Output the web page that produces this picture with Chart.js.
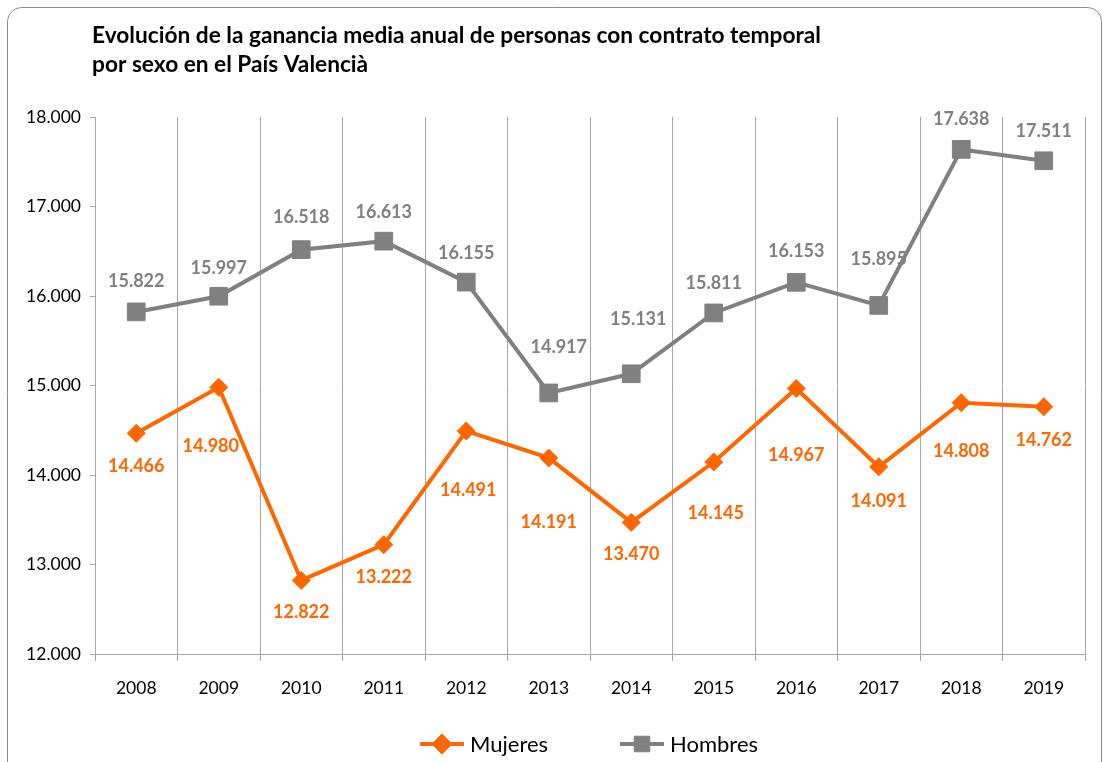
<!DOCTYPE html>
<html>
<head>
<meta charset="utf-8">
<script src="https://cdn.jsdelivr.net/npm/chart.js@4.4.1/dist/chart.umd.min.js"></script>
<style>
  html, body { margin: 0; padding: 0; background: #fff; }
  #wrap { width: 1105px; height: 762px; position: relative; }
</style>
</head>
<body>
<div id="wrap"><canvas id="grafico" width="1105" height="762"></canvas></div>
<script>
// Datos
const years = ['2008', '2009', '2010', '2011', '2012', '2013', '2014', '2015', '2016', '2017', '2018', '2019'];
const mujeres = [14466, 14980, 12822, 13222, 14491, 14191, 13470, 14145, 14967, 14091, 14808, 14762];
const hombres = [15822, 15997, 16518, 16613, 16155, 14917, 15131, 15811, 16153, 15895, 17638, 17511];
const titleLines = ['Evolución de la ganancia media anual de personas con contrato temporal', 'por sexo en el País Valencià'];

// desplazamiento de las etiquetas (px) respecto al punto
const offMujeres = [[0, 33], [-8, 59], [0, 32], [0, 33], [2, 59], [0, 64], [0, 32], [2, 51], [0, 67], [0, 34], [0, 49], [0, 33]];
const offHombres = [[0, -31], [0, -28], [0, -32], [0, -29], [0, -29], [10, -46], [7, -55], [0, -30], [0, -31], [0, -46], [0, -30], [0, -30]];

const NARANJA = '#FF6600';
const GRIS = '#808080';
const FONT = 'Lato, "Open Sans", sans-serif';

function miles(v) {
    return String(v).replace(/\B(?=(\d{3})+(?!\d))/g, '.');
}

// marco redondeado y título
const fondo = {
    id: 'fondo',
    beforeDraw(chart) {
        const ctx = chart.ctx;
        ctx.save();
        ctx.strokeStyle = '#8c8c8c';
        ctx.lineWidth = 1;
        ctx.beginPath();
        ctx.roundRect(7.5, 7.5, 1094, 780, 14);
        ctx.stroke();
        ctx.fillStyle = '#000';
        ctx.font = 'bold 22.7px ' + FONT;
        ctx.textBaseline = 'middle';
        ctx.textAlign = 'left';
        titleLines.forEach((t, i) => ctx.fillText(t, 92, 36 + i * 29));
        ctx.restore();
    }
};

// etiquetas de valores y leyenda
const etiquetas = {
    id: 'etiquetas',
    afterDatasetsDraw(chart) {
        const ctx = chart.ctx;
        const offs = [offMujeres, offHombres];
        ctx.save();
        ctx.font = 'bold 18px ' + FONT;
        ctx.textAlign = 'center';
        ctx.textBaseline = 'middle';
        chart.data.datasets.forEach((ds, i) => {
            const meta = chart.getDatasetMeta(i);
            ctx.fillStyle = ds.borderColor;
            meta.data.forEach((pt, j) => {
                ctx.fillText(miles(ds.data[j]), pt.x + offs[i][j][0], pt.y + offs[i][j][1]);
            });
        });

        // leyenda
        const items = [{ x: 420, r: 10 }, { x: 620, r: 11 }];
        ctx.font = '22px ' + FONT;
        ctx.textAlign = 'left';
        chart.data.datasets.forEach((ds, i) => {
            const x0 = items[i].x, y = 744;
            ctx.strokeStyle = ds.borderColor;
            ctx.fillStyle = ds.backgroundColor;
            ctx.lineWidth = 4;
            ctx.beginPath();
            ctx.moveTo(x0, y);
            ctx.lineTo(x0 + 44, y);
            ctx.stroke();
            ctx.lineWidth = 1;
            Chart.helpers.drawPoint(ctx, {
                pointStyle: ds.pointStyle, radius: items[i].r, borderWidth: 1
            }, x0 + 22, y);
            ctx.fillStyle = '#000';
            ctx.fillText(ds.label, x0 + 50, y + 1);
        });
        ctx.restore();
    }
};

const ctx = document.getElementById('grafico').getContext('2d');
new Chart(ctx, {
    type: 'line',
    data: {
        labels: years,
        datasets: [{
            label: 'Mujeres',
            data: mujeres,
            borderColor: NARANJA,
            backgroundColor: NARANJA,
            borderWidth: 4,
            pointStyle: 'rectRot',
            pointRadius: 9,
            pointBorderWidth: 1,
            tension: 0
        }, {
            label: 'Hombres',
            data: hombres,
            borderColor: GRIS,
            backgroundColor: GRIS,
            borderWidth: 4,
            pointStyle: 'rect',
            pointRadius: 12.5,
            pointBorderWidth: 1,
            tension: 0
        }]
    },
    options: {
        responsive: false,
        animation: false,
        layout: { padding: { left: 0, right: 20, top: 117, bottom: 0 } },
        plugins: {
            legend: { display: false },
            title: { display: false },
            tooltip: { enabled: false }
        },
        scales: {
            x: {
                offset: true,
                grid: {
                    offset: true,
                    color: '#a6a6a6',
                    lineWidth: 1,
                    tickLength: 7
                },
                border: { color: '#a6a6a6' },
                ticks: { color: '#000', font: { family: FONT, size: 17.5 }, padding: 17, maxRotation: 0 },
                afterFit(scale) { scale.height = 108; }
            },
            y: {
                min: 12000,
                max: 18000,
                grid: { drawOnChartArea: false, color: '#a6a6a6', tickLength: 5 },
                border: { color: '#a6a6a6' },
                ticks: {
                    stepSize: 1000,
                    color: '#000',
                    padding: 9,
                    font: { family: FONT, size: 17.5 },
                    callback: v => miles(v)
                },
                afterFit(scale) { scale.width = 95; }
            }
        }
    },
    plugins: [fondo, etiquetas]
});
</script>
</body>
</html>
